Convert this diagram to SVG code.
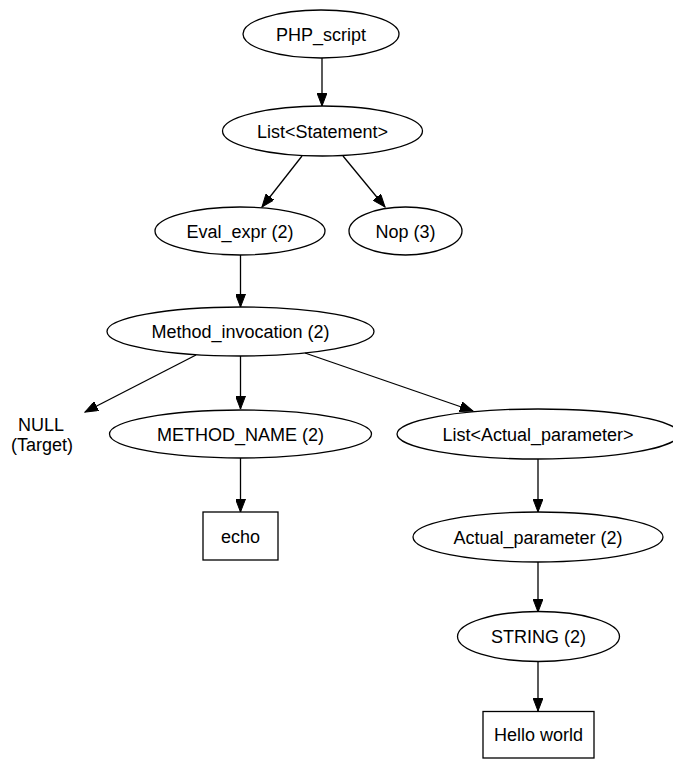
<svg xmlns="http://www.w3.org/2000/svg" width="673" height="759" viewBox="0 0 673 759">
<defs>
<marker id="arr" markerWidth="14" markerHeight="10" refX="13" refY="5" orient="auto" markerUnits="userSpaceOnUse">
<path d="M0,0 L13,5 L0,10 Z" fill="#000" stroke="#000" stroke-width="1"/>
</marker>
</defs>
<style>
.n ellipse, .n rect { fill: none; stroke: #000; stroke-width: 1.3; }
.n text { font-family: "Liberation Sans", Arial, sans-serif; font-size: 18px; text-anchor: middle; fill: #000; }
.e line { stroke: #000; stroke-width: 1.3; marker-end: url(#arr); }
</style>
<rect width="673" height="759" fill="#fff"/>
<g id="connectors" class="e">
<line x1="322" y1="58" x2="322" y2="106"/>
<line x1="302" y1="156" x2="262" y2="207"/>
<line x1="343" y1="156" x2="385" y2="207"/>
<line x1="240.5" y1="255" x2="240.5" y2="307"/>
<line x1="196" y1="355" x2="85" y2="412"/>
<line x1="240.5" y1="356" x2="240.5" y2="409"/>
<line x1="305" y1="353" x2="473" y2="411"/>
<line x1="240.5" y1="458" x2="240.5" y2="512"/>
<line x1="538" y1="459" x2="538" y2="512"/>
<line x1="538" y1="562" x2="538" y2="612"/>
<line x1="538" y1="661" x2="538" y2="711"/>
</g>
<g id="php_script" class="n"><ellipse cx="321" cy="34" rx="78" ry="24"/><text x="321" y="40.5">PHP_script</text></g>
<g id="list_statement" class="n"><ellipse cx="322.5" cy="131" rx="100" ry="25"/><text x="322.5" y="137.5">List&lt;Statement&gt;</text></g>
<g id="eval_expr" class="n"><ellipse cx="240" cy="231" rx="85" ry="24"/><text x="240" y="237.5">Eval_expr (2)</text></g>
<g id="nop" class="n"><ellipse cx="405.5" cy="231" rx="56.5" ry="24"/><text x="405.5" y="237.5">Nop (3)</text></g>
<g id="method_invocation" class="n"><ellipse cx="240.5" cy="331.5" rx="133.5" ry="24.5"/><text x="240.5" y="338">Method_invocation (2)</text></g>
<g id="null_target" class="n"><text x="41" y="431">NULL</text><text x="42" y="451">(Target)</text></g>
<g id="method_name" class="n"><ellipse cx="240.5" cy="434" rx="131" ry="24"/><text x="240.5" y="440.5">METHOD_NAME (2)</text></g>
<g id="list_actual_parameter" class="n"><ellipse cx="538" cy="434" rx="141" ry="25"/><text x="538" y="440.5">List&lt;Actual_parameter&gt;</text></g>
<g id="echo" class="n"><rect x="203" y="512" width="75" height="48"/><text x="240.5" y="542.5">echo</text></g>
<g id="actual_parameter" class="n"><ellipse cx="538" cy="537" rx="125" ry="25"/><text x="538" y="543.5">Actual_parameter (2)</text></g>
<g id="string" class="n"><ellipse cx="538.5" cy="636.5" rx="81" ry="25"/><text x="538.5" y="643">STRING (2)</text></g>
<g id="hello_world" class="n"><rect x="483" y="711.5" width="111" height="46.5"/><text x="538.5" y="741">Hello world</text></g>
</svg>
